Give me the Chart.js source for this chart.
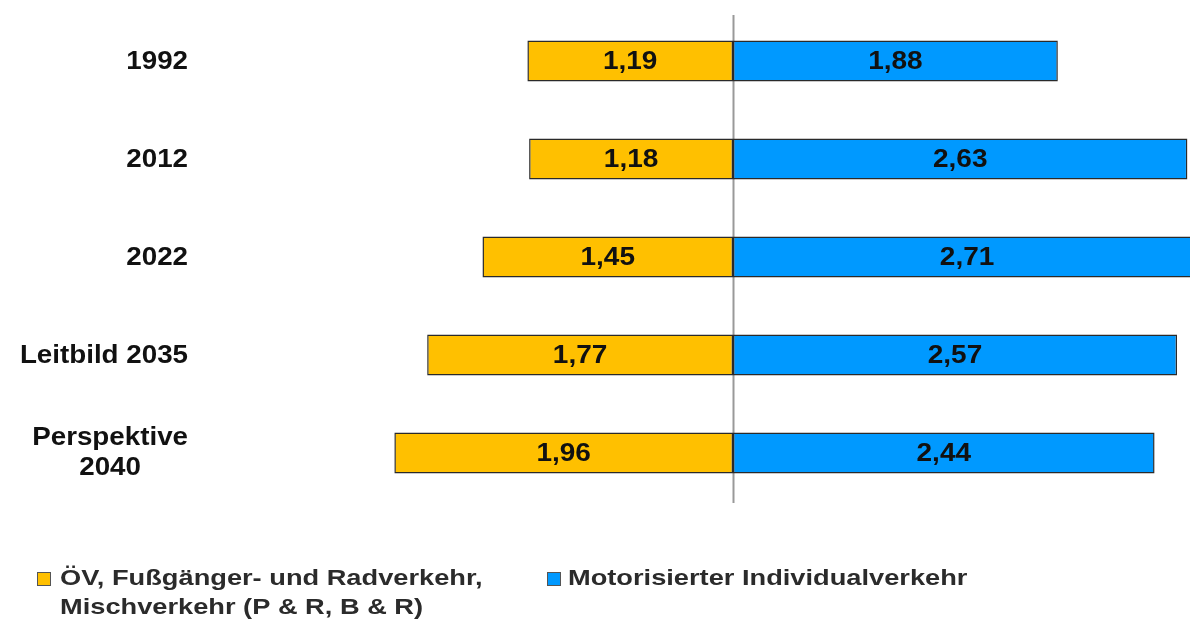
<!DOCTYPE html>
<html>
<head>
<meta charset="utf-8">
<script src="https://cdn.jsdelivr.net/npm/chart.js@4/dist/chart.umd.min.js"></script>
<style>
  html, body { margin: 0; padding: 0; background: #fff; }
  #wrap { width: 1190px; height: 624px; position: relative; }
</style>
</head>
<body>
<div id="wrap"><canvas id="c" width="1190" height="624"></canvas></div>
<script>
// Row labels (multi-line rows as arrays)
const categories = ['1992', '2012', '2022', 'Leitbild 2035', ['Perspektive', '2040']];
// Series values (shown as magnitudes; the first series is drawn to the left)
const oevValues = [1.19, 1.18, 1.45, 1.77, 1.96];
const mivValues = [1.88, 2.63, 2.71, 2.57, 2.44];
const seriesNames = [
  ['ÖV, Fußgänger- und Radverkehr,', 'Mischverkehr (P & R, B & R)'],
  ['Motorisierter Individualverkehr']
];
const seriesColors = ['#FFC000', '#0099FF'];

const FONT = '"Liberation Sans", Arial, sans-serif';

function stretchedText(ctx, text, x, y, align, size, sx, color) {
  ctx.save();
  ctx.font = 'bold ' + size + 'px ' + FONT;
  ctx.fillStyle = color;
  ctx.textBaseline = 'middle';
  ctx.textAlign = align;
  ctx.translate(x, y);
  ctx.scale(sx, 1);
  ctx.fillText(text, 0, 0);
  ctx.restore();
}

function fmt(v) { return Math.abs(v).toFixed(2).replace('.', ','); }

const decorations = {
  id: 'decorations',
  beforeDatasetsDraw(chart) {
    // zero line between the two sides
    const ctx = chart.ctx, xs = chart.scales.x, area = chart.chartArea;
    const x0 = Math.round(xs.getPixelForValue(0)) + 0.5;
    ctx.save();
    ctx.strokeStyle = '#999';
    ctx.lineWidth = 2;
    ctx.beginPath();
    ctx.moveTo(x0, area.top + 3);
    ctx.lineTo(x0, area.bottom + 1);
    ctx.stroke();
    ctx.restore();
  },
  afterDatasetsDraw(chart) {
    const ctx = chart.ctx, ys = chart.scales.y;
    // value labels centred in each bar
    chart.data.datasets.forEach((ds, i) => {
      chart.getDatasetMeta(i).data.forEach((bar, j) => {
        const cx = (bar.x + bar.base) / 2;
        stretchedText(ctx, fmt(ds.data[j]), cx, bar.y + 1, 'center', 25, 1.12, '#111');
      });
    });
    // row labels on the left
    const right = 188;
    categories.forEach((cat, j) => {
      const y = ys.getPixelForValue(j);
      const lines = Array.isArray(cat) ? cat : [cat];
      const sx = 1.11, size = 25, lh = 30;
      if (lines.length === 1) {
        stretchedText(ctx, lines[0], right, y + 1, 'right', size, sx, '#111');
      } else {
        ctx.save();
        ctx.font = 'bold ' + size + 'px ' + FONT;
        const w = Math.max(...lines.map(l => ctx.measureText(l).width)) * sx;
        ctx.restore();
        const cx = right - w / 2;
        const y0 = y - (lines.length - 1) * lh / 2;
        lines.forEach((l, k) => stretchedText(ctx, l, cx, y0 + k * lh, 'center', size, sx, '#111'));
      }
    });
    // legend below the plot
    const items = [{ x: 37, tx: 60 }, { x: 547, tx: 568 }];
    items.forEach((it, i) => {
      ctx.save();
      ctx.fillStyle = seriesColors[i];
      ctx.strokeStyle = '#555';
      ctx.lineWidth = 1;
      ctx.fillRect(it.x, 572, 14, 14);
      ctx.strokeRect(it.x + 0.5, 572.5, 13, 13);
      ctx.restore();
      seriesNames[i].forEach((l, k) => {
        stretchedText(ctx, l, it.tx, 579 + k * 29, 'left', 22.5, 1.21, '#2b2b2b');
      });
    });
  }
};

new Chart(document.getElementById('c'), {
  type: 'bar',
  data: {
    labels: categories,
    datasets: [
      {
        label: seriesNames[0].join(' '),
        data: oevValues.map(v => -v),
        backgroundColor: seriesColors[0],
        borderColor: '#2a2a2a',
        borderWidth: 1.5,
        borderSkipped: false
      },
      {
        label: seriesNames[1].join(' '),
        data: mivValues,
        backgroundColor: seriesColors[1],
        borderColor: '#2a2a2a',
        borderWidth: 1.5,
        borderSkipped: false
      }
    ]
  },
  options: {
    indexAxis: 'y',
    responsive: false,
    animation: false,
    layout: { padding: { left: 210, right: 0, top: 12, bottom: 122 } },
    datasets: { bar: { categoryPercentage: 1, barPercentage: 0.418 } },
    scales: {
      x: { stacked: true, min: -3.027, max: 2.645, display: false },
      y: { stacked: true, display: false }
    },
    plugins: { legend: { display: false }, tooltip: { enabled: false } }
  },
  plugins: [decorations]
});
</script>
</body>
</html>
